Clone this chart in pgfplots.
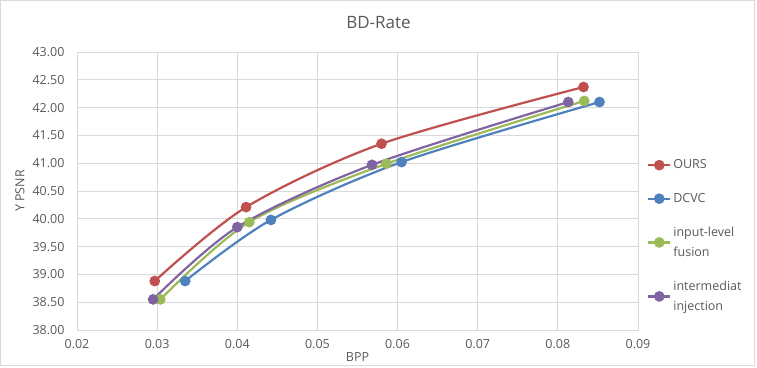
\documentclass[border=0pt]{standalone}
\usepackage{pgfplots}
\pgfplotsset{compat=1.18}
\usepackage{fontspec}
\setmainfont{Open Sans}
\definecolor{txt}{HTML}{595959}
\definecolor{cR}{HTML}{C0504D}
\definecolor{cB}{HTML}{4F81BD}
\definecolor{cG}{HTML}{9BBB59}
\definecolor{cP}{HTML}{8064A2}
\definecolor{grd}{HTML}{D9D9D9}
\begin{document}
\begin{tikzpicture}
\begin{axis}[
  name=ax, at={(0,0)}, anchor=south west,
  scale only axis, width=561bp, height=278bp,
  xmin=0.02, xmax=0.09, ymin=38, ymax=43,
  xtick={0.02,0.03,0.04,0.05,0.06,0.07,0.08,0.09},
  ytick={38,38.5,39,39.5,40,40.5,41,41.5,42,42.5,43},
  grid=major, major grid style={grd, line width=0.8bp},
  axis line style={grd, line width=0.8bp},
  tick style={draw=none},
  font={\fontsize{12.5bp}{15bp}\selectfont}, 
  every tick label/.append style={text=txt},
  /pgf/number format/assume math mode=true,
  xticklabel={\pgfmathprintnumber[fixed,fixed zerofill,precision=2]{\tick}},
  yticklabel={\pgfmathprintnumber[fixed,fixed zerofill,precision=2]{\tick}},
  scaled x ticks=false,
  xticklabel style={yshift=-6bp},
  yticklabel style={xshift=-9bp},
  xlabel={BPP}, ylabel={Y PSNR},
  xlabel style={at={(axis description cs:0.5,0)}, anchor=center, yshift=-27bp, text=txt},
  ylabel style={at={(axis description cs:-0.1016,0.5)}, anchor=center, text=txt},
  legend cell align=left,
  legend style={at={(1,0.627)}, anchor=north west, xshift=6bp, draw=none, fill=none,
    font={\fontsize{12.5bp}{20bp}\selectfont}, text=txt, row sep=19bp,
    nodes={align=left}, /tikz/every even column/.append style={column sep=3bp}},
  legend image code/.code={
    \draw[#1, mark=none, line width=2.2bp] (0bp,0bp) -- (22bp,0bp);
    \draw[#1, only marks] plot coordinates {(11bp,0bp)};
  },
  every axis plot/.append style={smooth, tension=0.5, line width=2.2bp, mark=*, mark size=4.2bp},
]
\addplot[cR, mark options={fill=cR}] coordinates {(0.0297,38.88) (0.0411,40.21) (0.0580,41.35) (0.0832,42.37)};
\addlegendentry{OURS}
\addplot[cB, mark options={fill=cB}] coordinates {(0.0335,38.88) (0.0442,39.98) (0.0605,41.02) (0.0852,42.10)};
\addlegendentry{DCVC}
\addplot[cG, mark options={fill=cG}] coordinates {(0.0304,38.55) (0.0415,39.94) (0.0586,40.99) (0.0833,42.12)};
\addlegendentry{input-level\\fusion}
\addplot[cP, mark options={fill=cP}] coordinates {(0.0295,38.55) (0.0400,39.85) (0.0568,40.97) (0.0813,42.10)};
\addlegendentry{intermediat\\injection}
\end{axis}
\path[use as bounding box] ([shift={(-77bp,-38bp)}]ax.south west) rectangle ([shift={(119bp,52bp)}]ax.north east);
\draw[grd, line width=1bp] ([shift={(-76bp,-36bp)}]ax.south west) rectangle ([shift={(116bp,51bp)}]ax.north east);
\node[text=txt, font={\fontsize{17bp}{20bp}\selectfont}] at ([shift={(-259.5bp,29bp)}]ax.north east) {BD-Rate};
\end{tikzpicture}
\end{document}
